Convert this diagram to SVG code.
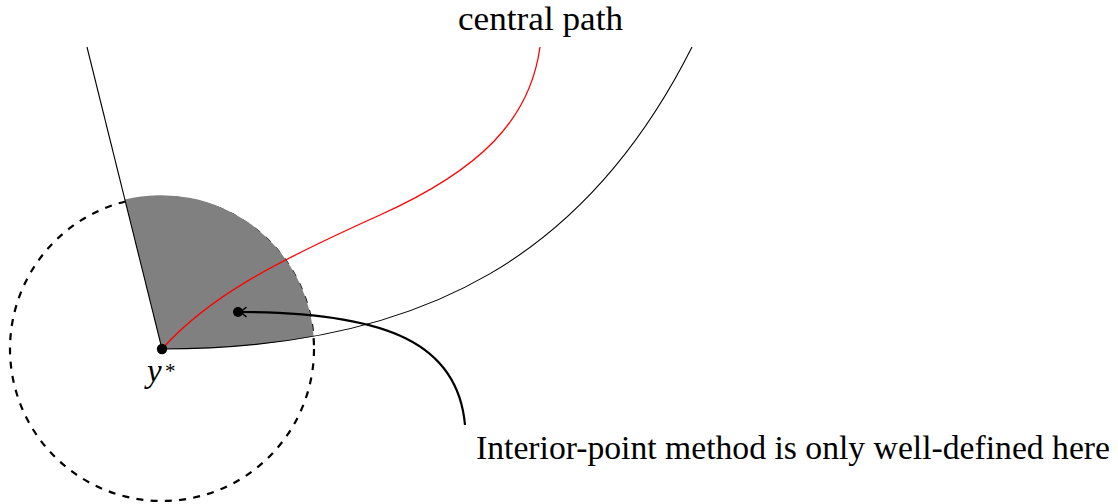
<svg xmlns="http://www.w3.org/2000/svg" width="1118" height="504" viewBox="0 0 1118 504">
  <style>
    .thin { fill: none; stroke: #000; stroke-width: 1.1; }
    .red { fill: none; stroke: #ff0000; stroke-width: 1.3; }
    .thick { fill: none; stroke: #000; stroke-width: 2.2; }
    .dashed { fill: none; stroke: #000; stroke-width: 2.2; stroke-dasharray: 7 7.3; }
    .lbl { font-family: 'Liberation Serif', 'Times New Roman', serif; font-size: 33px; fill: #000; }
    .dot { fill: #000; }
  </style>
  <defs>
    <marker id="to" viewBox="-10 -7 12 14" refX="0" refY="0" markerWidth="12" markerHeight="14" markerUnits="userSpaceOnUse" orient="auto">
      <path d="M-7,-4.5 Q-3,-0.8 0,0 Q-3,0.8 -7,4.5" fill="none" stroke="#000" stroke-width="1.6" stroke-linecap="round"/>
    </marker>
  </defs>

  <g id="region">
    <circle id="ball" class="dashed" cx="162" cy="349" r="152"/>
    <path id="sector" d="M162,349 L124.9,199.5 A153,153 0 0 1 313.6,336.5 C267.3,344.8 216.9,349 162,349 Z" fill="#808080" stroke="none"/>
  </g>

  <g id="connectors">
    <path id="left-boundary" class="thin" d="M162,349 L87,47"/>
    <path id="right-boundary" class="thin" d="M162,349 C430,349 590,250 692,47"/>
    <path id="central-path" class="red" d="M162,349 C210,295 280,260 380,215 C480,170 530,120 540,47"/>
    <path id="pointer" class="thick" d="M465,425 C458,345 390,312 239,312" marker-end="url(#to)"/>
  </g>

  <g id="node-ystar">
    <circle class="dot" cx="162" cy="349" r="5.2"/>
    <text class="lbl" x="147" y="382" font-style="italic">y</text>
    <text class="lbl" x="165" y="378" style="font-size:21px">*</text>
  </g>

  <g id="node-point">
    <circle class="dot" cx="238" cy="312" r="5"/>
  </g>

  <g id="label-central">
    <text class="lbl" x="458" y="30" textLength="165" lengthAdjust="spacingAndGlyphs">central path</text>
  </g>

  <g id="label-interior">
    <text class="lbl" x="476" y="459" textLength="634" lengthAdjust="spacingAndGlyphs">Interior-point method is only well-defined here</text>
  </g>
</svg>
